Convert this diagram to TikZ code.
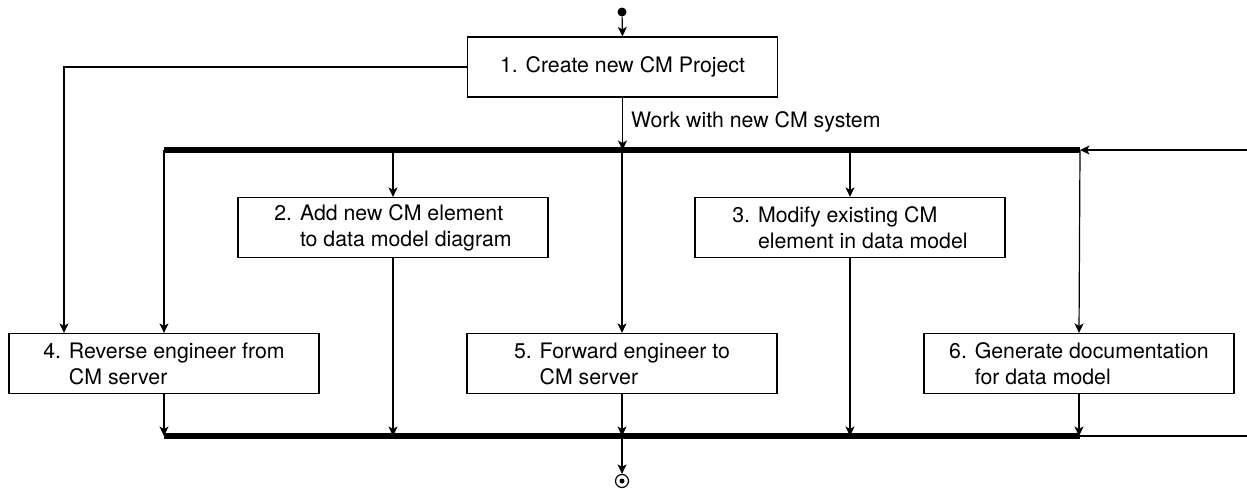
\documentclass[tikz,border=0pt]{standalone}
\usepackage{fontspec}
\setmainfont{TeX Gyre Heros}
\usetikzlibrary{arrows.meta,calc}

\begin{document}
\begin{tikzpicture}[x=1pt,y=-1pt,
  every node/.style={font=\fontsize{21.3}{26}\selectfont},
  box/.style={draw, line width=1.2pt, minimum width=310pt, minimum height=60pt,
              inner sep=0pt, align=left},
  conn/.style={line width=1.2pt},
  arr/.style={conn, -{Stealth[length=9.5pt,width=9pt,inset=2.5pt]}},
  bar/.style={line width=6pt}]

\useasboundingbox (0,0) rectangle (1247,488);

% activity boxes
\node[box] (b1) at (622.5,67)  {1. Create new CM Project};
\node[box] (b2) at (393,227.5) {2. Add new CM element\\\phantom{2. }to data model diagram};
\node[box] (b3) at (850,227.5) {3. Modify existing CM\\\phantom{3. }element in data model};
\node[box] (b4) at (164,363.5) {4. Reverse engineer from\\\phantom{4. }CM server};
\node[box] (b5) at (622,363.5) {5. Forward engineer to\\\phantom{5. }CM server};
\node[box] (b6) at (1079,363.5){6. Generate documentation\\\phantom{6. }for data model};

% fork and join bars
\coordinate (tbl) at (164,150);
\coordinate (tbr) at (1080,150);
\coordinate (bbl) at (164,436);
\coordinate (bbr) at (1080,436);
\draw[bar] (tbl) -- (tbr);
\draw[bar] (bbl) -- (bbr);

% start and end markers
\node[circle, fill=black, inner sep=0pt, minimum size=9pt] (start) at (622,12) {};
\node[circle, draw, line width=1.2pt, inner sep=0pt, minimum size=13pt] (stop) at (622,481) {};
\fill (stop.center) circle (2.5pt);

\draw[arr] (start) -- (b1.north);
\draw[arr] (b1.south) -- (b1.south |- tbl)
  node[pos=0.5, anchor=base west, inner sep=0pt, xshift=8pt, yshift=-4pt] (lbl) {Work with new CM system};

% direct path from project creation to reverse engineering
\coordinate (rail) at (64,0);
\draw[arr] (b1.west) -| (rail |- b4.north);

% loop back into the fork bar
\coordinate (inR) at (1247,150);
\draw[arr] (inR) -- (tbr);

% fork branches
\draw[arr] (tbl) -- (b4.north);
\draw[arr] (b2.north |- tbl) -- (b2.north);
\draw[arr] (b5.north |- tbl) -- (b5.north);
\draw[arr] (b3.north |- tbl) -- (b3.north);
\draw[arr] (tbr) -- (b6.north);

% join branches
\draw[arr] (b4.south) -- (b4.south |- bbl);
\draw[arr] (b2.south) -- (b2.south |- bbl);
\draw[arr] (b5.south) -- (b5.south |- bbl);
\draw[arr] (b3.south) -- (b3.south |- bbl);
\draw[arr] (b6.south) -- (b6.south |- bbl);

% continuation to the right and to the end
\coordinate (outR) at (1247,436);
\draw[conn] (bbr) -- (outR);
\draw[arr] (b5.south |- bbl) -- (stop.north);

\end{tikzpicture}
\end{document}
